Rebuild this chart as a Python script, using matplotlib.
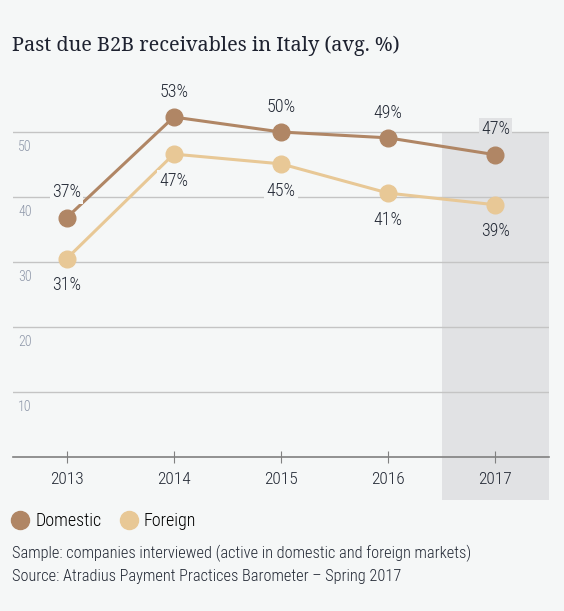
import matplotlib.pyplot as plt
from matplotlib.patches import Rectangle
from matplotlib.lines import Line2D

years = ["2013", "2014", "2015", "2016", "2017"]
domestic = [37, 53, 50, 49, 47]
foreign = [31, 47, 45, 41, 39]
domestic_pos = [36.8, 52.3, 50.0, 49.1, 46.5]
foreign_pos = [30.5, 46.6, 45.1, 40.6, 38.8]
yticks = [10, 20, 30, 40, 50]

bg = "#f5f7f7"
c_dom = "#b08665"
c_for = "#e8c896"
txt = "#222834"

plt.rcParams["font.family"] = ["Roboto Condensed", "DejaVu Sans"]
plt.rcParams["font.weight"] = "light"

fig = plt.figure(figsize=(5.64, 6.11), dpi=100, facecolor=bg)
ax = fig.add_axes([13 / 564, 154 / 611, 536 / 564, 390 / 611])
ax.set_facecolor(bg)
ax.set_xlim(-0.5, 4.5)
ax.set_ylim(0, 60)

x = list(range(len(years)))

# shaded current year
ax.add_patch(Rectangle((3.5, -6.6), 1.0, 56.6, facecolor="#e1e2e4",
                       edgecolor="none", clip_on=False, zorder=0))

for v in yticks:
    ax.axhline(v, color="#c4c4c4", lw=1, zorder=1)
    ax.text(-0.45, v - 1.3, str(v), color="#8d96a8", fontsize=10,
            ha="left", va="top", zorder=2)

ax.plot(x, domestic_pos, color=c_dom, lw=2.2, marker="o", ms=12, zorder=4)
ax.plot(x, foreign_pos, color=c_for, lw=2.2, marker="o", ms=12, zorder=3)

for i in x:
    lab_bg = "#e1e2e4" if i == 4 else bg
    ax.text(i, domestic_pos[i] + 3.9, f"{domestic[i]}%", ha="center", va="center",
            fontsize=13, color=txt, zorder=5,
            bbox=dict(facecolor=lab_bg, edgecolor="none", pad=1.5))
    ax.text(i, foreign_pos[i] - 4.1, f"{foreign[i]}%", ha="center", va="center",
            fontsize=13, color=txt, zorder=5,
            bbox=dict(facecolor=lab_bg, edgecolor="none", pad=1.5))

for s in ["top", "right", "left"]:
    ax.spines[s].set_visible(False)
ax.spines["bottom"].set_color("#808080")
ax.spines["bottom"].set_linewidth(1.2)
ax.set_yticks([])
ax.set_xticks(x)
ax.set_xticklabels(years, fontsize=12.5, color=txt)
ax.tick_params(axis="x", direction="inout", length=8, color="#808080", pad=7)

fig.text(12 / 564, 1 - 46 / 611, "Past due B2B receivables in Italy (avg. %)",
         fontsize=14.3, family=["Noto Serif", "DejaVu Serif"], weight="normal",
         color="#1e2230", va="center")

handles = [Line2D([], [], ls="none", marker="o", ms=13, color=c_dom),
           Line2D([], [], ls="none", marker="o", ms=13, color=c_for)]
fig.legend(handles, ["Domestic", "Foreign"], loc="center left",
           bbox_to_anchor=(-7 / 564, 1 - 521 / 611), ncol=2, frameon=False,
           fontsize=13, handletextpad=0.25, columnspacing=0.9, handlelength=1.2)

fig.text(12 / 564, 1 - 553 / 611,
         "Sample: companies interviewed (active in domestic and foreign markets)",
         fontsize=11.8, color=txt, va="center")
fig.text(12 / 564, 1 - 576 / 611,
         "Source: Atradius Payment Practices Barometer \u2013 Spring 2017",
         fontsize=11.8, color=txt, va="center")

fig.savefig("out.png", dpi=100, facecolor=bg)
